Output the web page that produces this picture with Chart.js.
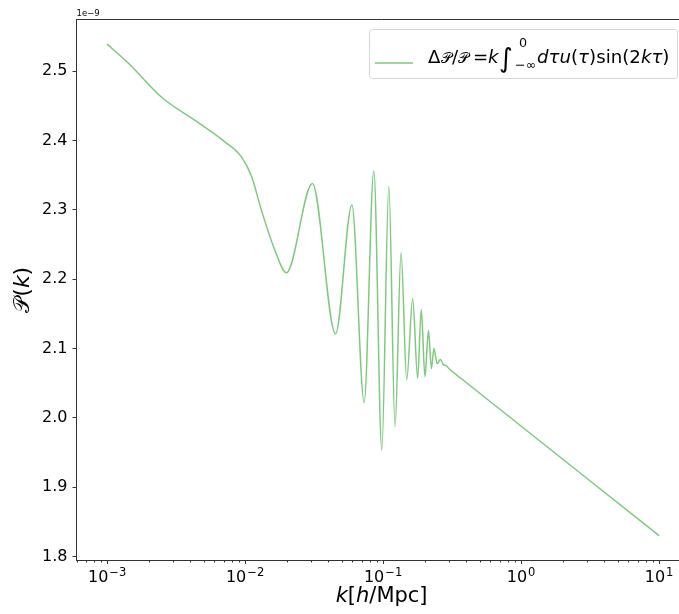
<!DOCTYPE html>
<html>
<head>
<meta charset="utf-8">
<script src="https://cdn.jsdelivr.net/npm/chart.js@4.4.0/dist/chart.umd.min.js"></script>
<style>
  html, body { margin: 0; padding: 0; overflow: hidden; background: #fff; }
  canvas { display: block; }
</style>
</head>
<body>
<canvas id="spectrum" width="690" height="614"></canvas>
<script>
// wavenumber k [h/Mpc]
const kValues = [0.001, 0.001434, 0.002494, 0.004339, 0.007146, 0.009434, 0.01114, 0.01315, 0.01641, 0.01994,
    0.03072, 0.04524, 0.05943, 0.07292, 0.08567, 0.09786, 0.1100, 0.1221, 0.1349, 0.1483,
    0.1638, 0.1780, 0.1890, 0.2011, 0.2131, 0.2239, 0.2334, 0.2466, 0.2601, 0.2725,
    0.2874, 0.2996, 0.3659, 10];
// P(k), in units of 1e-9
const powerValues = [2.539, 2.511, 2.462, 2.429, 2.398, 2.376, 2.348, 2.299, 2.242, 2.209,
    2.338, 2.121, 2.307, 2.022, 2.356, 1.953, 2.334, 1.987, 2.238, 2.055,
    2.172, 2.057, 2.156, 2.059, 2.126, 2.071, 2.100, 2.078, 2.084, 2.077,
    2.075, 2.071, 2.057, 1.830];
const yTicks = [1.8, 1.9, 2.0, 2.1, 2.2, 2.3, 2.4, 2.5];
const xTicks = [1e-3, 1e-2, 1e-1, 1e0, 1e1];
const xTickExponents = ['−3', '−2', '−1', '0', '1'];

const lineColor = '#7fc97f';
const FONT = '"DejaVu Sans", sans-serif';

// draws a row of text pieces (italic / scaled / shifted); "at" pins a piece to an offset from x
function drawRuns(ctx, parts, x, y, size, measureOnly) {
    let cx = x;
    for (const p of parts) {
        ctx.font = (p.it ? 'italic ' : '') + (size * (p.s || 1)) + 'px ' + FONT;
        if (p.at !== undefined) cx = x + p.at;
        cx += p.dx || 0;
        if (!measureOnly) ctx.fillText(p.t, cx, y + (p.dy || 0));
        cx += p.w !== undefined ? p.w : ctx.measureText(p.t).width;
    }
    return cx - x;
}

const legendParts = [
    {t: 'Δ'}, {t: '𝒫', s: 0.85, dx: 0.5}, {t: '/'}, {t: '𝒫', s: 0.85},
    {t: '=', at: 45}, {t: 'k', it: 1, at: 60},
    {t: '∫', s: 1.45, dy: 4, at: 71},
    {t: '0', s: 0.7, dy: -16, at: 91, w: 0},
    {t: '−∞', s: 0.7, dy: 6, at: 87},
    {t: 'dτu', it: 1, at: 109}, {t: '('}, {t: 'τ', it: 1}, {t: ')sin(2'}, {t: 'kτ', it: 1}, {t: ')'}
];
const yTitleParts = [{t: '𝒫'}, {t: '('}, {t: 'k', it: 1}, {t: ')'}];
const xTitleParts = [{t: 'k', it: 1}, {t: '['}, {t: 'h', it: 1}, {t: '/Mpc]'}];

const extras = {
    id: 'extras',
    afterDraw(chart) {
        const ctx = chart.ctx;
        const area = chart.chartArea;
        const xs = chart.scales.x;
        ctx.save();
        ctx.fillStyle = '#000';
        ctx.textAlign = 'left';
        ctx.textBaseline = 'alphabetic';

        // top spine
        ctx.strokeStyle = '#333';
        ctx.lineWidth = 1;
        ctx.beginPath();
        ctx.moveTo(area.left, area.top);
        ctx.lineTo(area.right, area.top);
        ctx.stroke();

        // minor log ticks
        ctx.beginPath();
        for (let d = -4; d <= 1; d++) {
            for (let m = 2; m <= 9; m++) {
                const v = m * Math.pow(10, d);
                if (v < xs.min || v > xs.max) continue;
                const px = Math.round(xs.getPixelForValue(v)) + 0.5;
                ctx.moveTo(px, area.bottom);
                ctx.lineTo(px, area.bottom + 2.5);
            }
        }
        ctx.stroke();

        // decade labels 10^n
        xTicks.forEach((v, i) => {
            const parts = [{t: '10'}, {t: xTickExponents[i], s: 0.72, dy: -6.2, dx: 1}];
            const w = drawRuns(ctx, parts, 0, 0, 16, true);
            drawRuns(ctx, parts, xs.getPixelForValue(v) - w / 2, 581.7, 16);
        });

        // scale factor of the y axis
        ctx.font = '8.5px ' + FONT;
        ctx.fillText('1e−9', area.left, 16);

        // axis titles
        const xw = drawRuns(ctx, xTitleParts, 0, 0, 21, true);
        drawRuns(ctx, xTitleParts, (area.left + area.right) / 2 - xw / 2, 602, 21);
        ctx.save();
        ctx.translate(29, (area.top + area.bottom) / 2);
        ctx.rotate(-Math.PI / 2);
        const yw = drawRuns(ctx, yTitleParts, 0, 0, 22, true);
        drawRuns(ctx, yTitleParts, -yw / 2, 0, 22);
        ctx.restore();

        // legend
        ctx.beginPath();
        ctx.roundRect(369.5, 29.5, 308, 49, 3);
        ctx.fillStyle = 'rgba(255,255,255,0.8)';
        ctx.fill();
        ctx.strokeStyle = '#d6d6d6';
        ctx.stroke();
        ctx.beginPath();
        ctx.moveTo(375, 63);
        ctx.lineTo(413, 63);
        ctx.strokeStyle = lineColor;
        ctx.lineWidth = 1.5;
        ctx.stroke();
        ctx.fillStyle = '#000';
        drawRuns(ctx, legendParts, 428, 63, 18.2);
        ctx.restore();
    }
};

new Chart(document.getElementById('spectrum'), {
    type: 'line',
    data: {
        datasets: [{
            label: 'ΔP/P = k∫ dτ u(τ) sin(2kτ)',
            data: kValues.map((k, i) => ({x: k, y: powerValues[i]})),
            borderColor: lineColor,
            borderWidth: 1.5,
            pointRadius: 0,
            fill: false,
            cubicInterpolationMode: 'monotone'
        }]
    },
    options: {
        responsive: false,
        animation: false,
        events: [],
        layout: {padding: {top: 19.5, right: 3.3, left: 0, bottom: 0}},
        plugins: {legend: {display: false}, tooltip: {enabled: false}},
        scales: {
            x: {
                type: 'logarithmic',
                min: Math.pow(10, -3.2),
                max: Math.pow(10, 1.2),
                afterBuildTicks: s => { s.ticks = xTicks.map(v => ({value: v})); },
                afterFit: s => { s.height = 54; },
                border: {color: '#333', width: 1},
                grid: {drawOnChartArea: false, tickLength: 4, tickColor: '#333'},
                ticks: {display: false}
            },
            y: {
                min: 1.7948,
                max: 2.5745,
                afterBuildTicks: s => { s.ticks = yTicks.map(v => ({value: v})); },
                afterFit: s => { s.width = 76.5; },
                border: {color: '#333', width: 1},
                grid: {drawOnChartArea: false, tickLength: 4, tickColor: '#333'},
                ticks: {
                    padding: 5, color: '#000', font: {family: 'DejaVu Sans', size: 16},
                    callback: v => v.toFixed(1)
                }
            }
        }
    },
    plugins: [extras]
});
</script>
</body>
</html>
